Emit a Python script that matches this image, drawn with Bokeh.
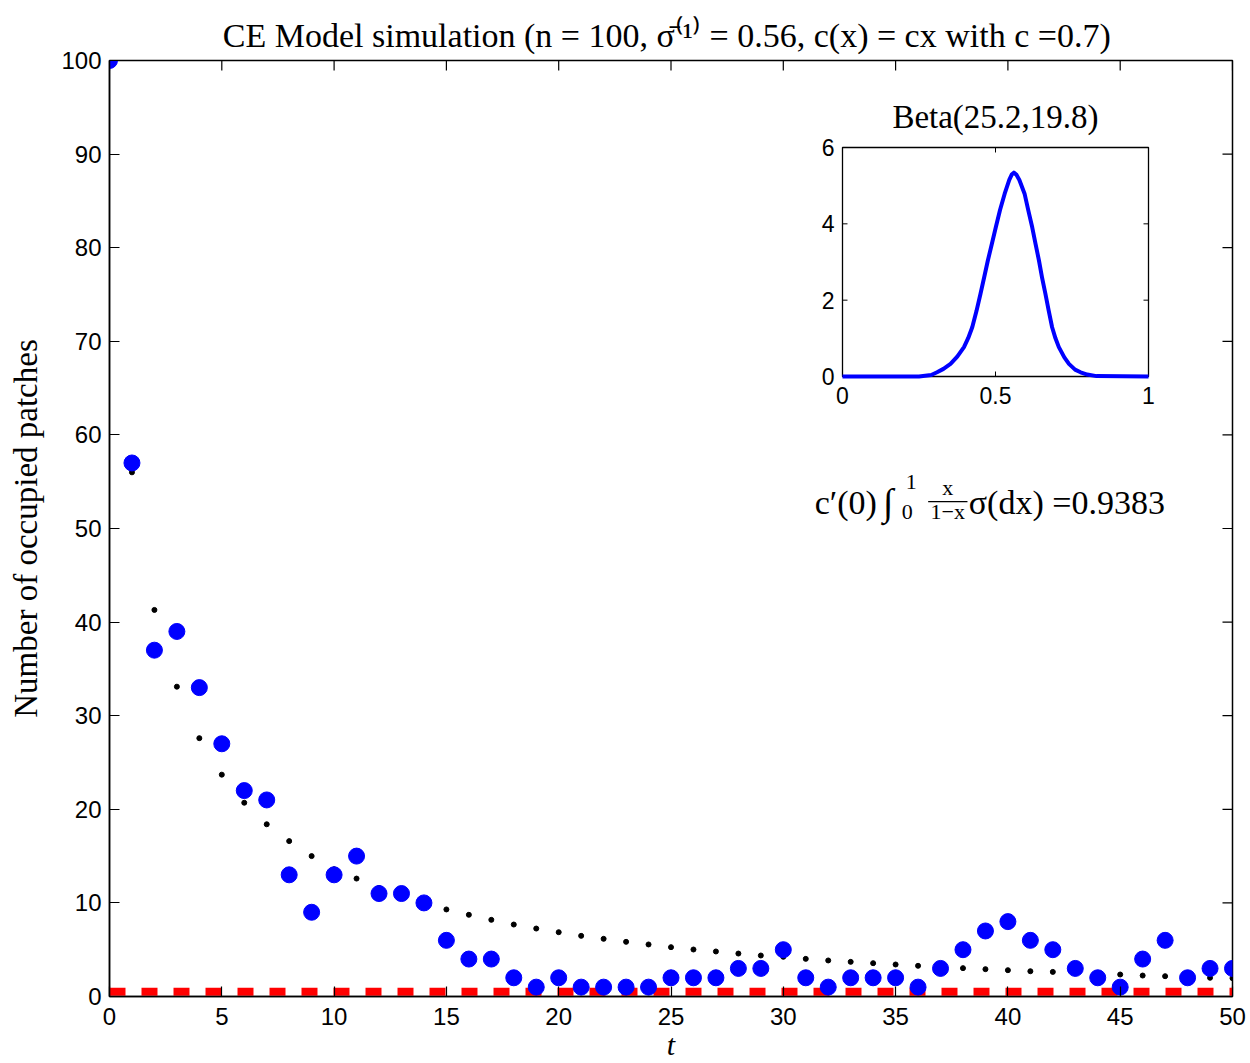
import math
from bokeh.plotting import figure
from bokeh.models import Range1d, FixedTicker, Label
from bokeh.core.properties import value
from bokeh.embed import file_html
from bokeh.resources import INLINE

# ---------------- data ----------------
t = list(range(0, 51))
occupied = [100, 57, 37, 39, 33, 27, 22, 21, 13, 9, 13, 15, 11, 11, 10, 6, 4, 4, 2, 1,
            2, 1, 1, 1, 1, 2, 2, 2, 3, 3, 5, 2, 1, 2, 2, 2, 1, 3, 5, 7,
            8, 6, 5, 3, 2, 1, 4, 6, 2, 3, 3]
expected = [100, 56.0, 41.3, 33.1, 27.6, 23.7, 20.7, 18.4, 16.6, 15.0, 13.6, 12.6, 11.6, 10.8, 10.1,
            9.3, 8.73, 8.19, 7.69, 7.26, 6.87, 6.48, 6.16, 5.84, 5.56, 5.27, 5.02, 4.81, 4.59, 4.38,
            4.24, 4.02, 3.85, 3.70, 3.56, 3.42, 3.28, 3.15, 3.03, 2.92, 2.81, 2.70, 2.63, 2.55, 2.47,
            2.35, 2.24, 2.17, 2.10, 2.00, 1.96]
threshold_t = [0, 50]
threshold_y = [0.5, 0.5]

x_ticks = [0, 5, 10, 15, 20, 25, 30, 35, 40, 45, 50]
y_ticks = [0, 10, 20, 30, 40, 50, 60, 70, 80, 90, 100]

# inset: Beta(25.2,19.8) density
beta_x = [0.0, 0.25, 0.29, 0.309, 0.33, 0.353, 0.375, 0.397, 0.411, 0.424, 0.438, 0.451, 0.463,
          0.475, 0.488, 0.501, 0.515, 0.530, 0.545, 0.553, 0.560, 0.568, 0.578, 0.595, 0.607,
          0.620, 0.631, 0.642, 0.652, 0.663, 0.674, 0.685, 0.696, 0.707, 0.725, 0.740, 0.760,
          0.778, 0.80, 0.83, 1.0]
beta_y = [0.0, 0.0, 0.04, 0.11, 0.2, 0.33, 0.52, 0.77, 1.01, 1.29, 1.72, 2.17, 2.60,
          3.04, 3.47, 3.91, 4.37, 4.79, 5.15, 5.29, 5.34, 5.29, 5.15, 4.79, 4.36,
          3.91, 3.47, 3.04, 2.60, 2.17, 1.72, 1.29, 1.00, 0.77, 0.50, 0.33, 0.18,
          0.11, 0.05, 0.01, 0.0]
inset_x_ticks = [0, 0.5, 1]
inset_x_labels = ["0", "0.5", "1"]
inset_y_ticks = [0, 2, 4, 6]
inset_y_labels = ["0", "2", "4", "6"]

TITLE = "CE Model simulation (n = 100, \u03c3\u0304\u207d\u00b9\u207e = 0.56, c(x) = cx  with c =0.7)"
INSET_TITLE = "Beta(25.2,19.8)"

SERIF = "Liberation Serif"
SANS = "Liberation Sans"

# ---------------- figure ----------------
p = figure(width=1250, height=1063, output_backend="svg", toolbar_location=None,
           x_range=Range1d(0, 50), y_range=Range1d(0, 100),
           min_border_left=109, min_border_right=18, min_border_top=60, min_border_bottom=67)
p.background_fill_color = "white"
p.border_fill_color = "white"
p.outline_line_color = "black"
p.outline_line_width = 1.5
p.xgrid.visible = False
p.ygrid.visible = False

for ax, ticks in ((p.xaxis[0], x_ticks), (p.yaxis[0], y_ticks)):
    ax.ticker = FixedTicker(ticks=ticks)
    ax.major_tick_in = 10
    ax.major_tick_out = 0
    ax.minor_tick_line_color = None
    ax.axis_line_width = 1.5
    ax.major_tick_line_width = 1.2
    ax.major_label_text_font = SANS
    ax.major_label_text_font_size = "24px"
    ax.major_label_text_color = "black"
    ax.axis_label_text_font = SERIF
    ax.axis_label_text_color = "black"

p.xaxis.major_label_standoff = 11
p.yaxis.major_label_standoff = 8
p.xaxis.axis_label = "t"
p.xaxis.axis_label_text_font_size = "30px"
p.xaxis.axis_label_text_font_style = "italic"
p.xaxis.axis_label_standoff = 0
p.yaxis.axis_label = "Number of occupied patches"
p.yaxis.axis_label_text_font_size = "33px"
p.yaxis.axis_label_text_font_style = "normal"
p.yaxis.axis_label_standoff = 14

# mirrored inward ticks on top and right edges
p.ray(x=x_ticks, y=[y_ticks[-1]] * len(x_ticks), length=10, length_units="screen",
      angle=-math.pi / 2, line_color="black", line_width=1.2)
p.ray(x=[x_ticks[-1]] * len(y_ticks), y=y_ticks, length=10, length_units="screen",
      angle=math.pi, line_color="black", line_width=1.2)

p.title.text = TITLE
p.title.text_font = SERIF
p.title.text_font_size = "34px"
p.title.text_font_style = "normal"
p.title.text_color = "black"
p.title.align = "center"
p.title.standoff = 14
p.title.offset = -7

# ---------------- main series ----------------
p.line(threshold_t, threshold_y, line_color="red", line_width=8, line_dash="16 16")
p.scatter(t, expected, size=5, color="black")
p.scatter(t, occupied, size=16, color="blue")

# ---------------- inset (drawn through extra ranges) ----------------
p.extra_x_ranges = {"ix": Range1d(-2.3954, 1.2745)}
p.extra_y_ranges = {"iy": Range1d(-16.244, 8.2794)}
ix0, ix1 = inset_x_ticks[0], inset_x_ticks[-1]
iy0, iy1 = inset_y_ticks[0], inset_y_ticks[-1]
IK = dict(x_range_name="ix", y_range_name="iy")

p.quad(left=[ix0], right=[ix1], bottom=[iy0], top=[iy1], fill_color="white",
       line_color="black", line_width=1.3, **IK)
# ticks
p.ray(x=inset_x_ticks, y=[iy0] * len(inset_x_ticks), length=5, length_units="screen",
      angle=math.pi / 2, line_color="black", **IK)
p.ray(x=inset_x_ticks, y=[iy1] * len(inset_x_ticks), length=5, length_units="screen",
      angle=-math.pi / 2, line_color="black", **IK)
p.ray(x=[ix0] * len(inset_y_ticks), y=inset_y_ticks, length=5, length_units="screen",
      angle=0, line_color="black", **IK)
p.ray(x=[ix1] * len(inset_y_ticks), y=inset_y_ticks, length=5, length_units="screen",
      angle=math.pi, line_color="black", **IK)
# tick labels
p.text(x=inset_x_ticks, y=[iy0] * len(inset_x_ticks), text=inset_x_labels,
       text_font=value(SANS), text_font_size="23px", text_align="center",
       text_baseline="top", y_offset=10, **IK)
p.text(x=[ix0] * len(inset_y_ticks), y=inset_y_ticks, text=inset_y_labels,
       text_font=value(SANS), text_font_size="23px", text_align="right",
       text_baseline="middle", x_offset=-8, **IK)
p.text(x=[(ix0 + ix1) / 2], y=[iy1], text=[INSET_TITLE], text_font=value(SERIF),
       text_font_size="33px", text_align="center", text_baseline="bottom", y_offset=-12, **IK)
p.line(beta_x, beta_y, line_color="blue", line_width=4, line_join="round", **IK)

# ---------------- annotation c'(0) ∫ x/(1-x) σ(dx) = 0.9383 ----------------
NX, NY = 31.40, 52.8   # anchor of the annotation, in data units
parts = [
    ("c\u2032(0)", 0, 0, 34, "left"),
    ("\u222b", 68, 0, 38, "left"),
    ("1", 91, 20, 22, "left"),
    ("0", 87, -10, 22, "left"),
    ("x", 133, 15, 22, "center"),
    ("1\u2212x", 133, -9, 22, "center"),
    ("\u03c3(dx) =0.9383", 154, 0, 34, "left"),
]
for txt, dx, dy, fs, al in parts:
    p.add_layout(Label(x=NX, y=NY, x_offset=dx, y_offset=dy, text=txt, text_font=SERIF,
                       text_font_size=f"{fs}px", text_align=al, text_baseline="alphabetic",
                       text_color="black"))
# fraction bar
frac_x = [36.45, 38.2]
frac_y = [52.88, 52.88]
p.line(frac_x, frac_y, line_color="black", line_width=1.3)

open("out.html", "w").write(file_html(p, INLINE))
